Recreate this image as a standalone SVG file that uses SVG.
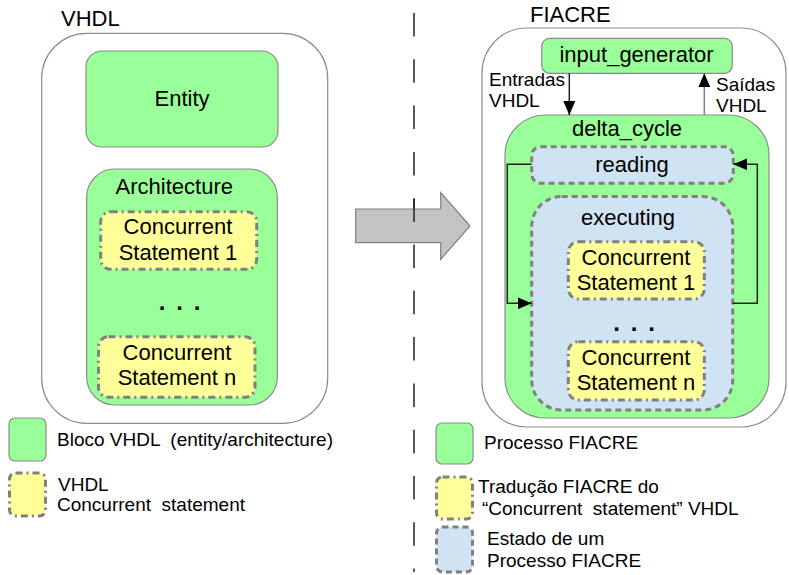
<svg xmlns="http://www.w3.org/2000/svg" width="789" height="575" viewBox="0 0 789 575">
  <style>
    text { font-family: "Liberation Sans", Arial, sans-serif; fill: #000; white-space: pre; }
    .t22 { font-size: 22px; }
    .t19 { font-size: 19px; }
    .t18 { font-size: 19px; }
    .mid { text-anchor: middle; }
    .frame { fill: #fff; stroke: #8c8c8c; stroke-width: 1.2; }
    .proc { fill: #99ff99; stroke: #8c8c8c; stroke-width: 1.2; }
    .stmt { fill: #ffff99; stroke: #808080; stroke-width: 3; stroke-dasharray: 7 4 2 4; }
    .state { fill: #cfe3f3; stroke: #808080; stroke-width: 3; stroke-dasharray: 6 4; }
    .wire { fill: none; stroke: #222; stroke-width: 1.5; }
    .dots { font-size: 24px; font-weight: bold; }
  </style>
  <defs>
    <marker id="head" markerWidth="14" markerHeight="12" refX="14" refY="6" orient="auto" markerUnits="userSpaceOnUse">
      <path d="M0,0 L14,6 L0,12 Z" fill="#000"/>
    </marker>
  </defs>

  <!-- separator between the two halves -->
  <line x1="414" y1="13" x2="414" y2="572" stroke="#222" stroke-width="1.5" stroke-dasharray="23.5 22.8"/>

  <!-- VHDL side -->
  <text class="t22" x="61" y="26">VHDL</text>
  <g id="vhdl-frame">
    <rect class="frame" x="41.7" y="33.3" width="286" height="390" rx="45"/>
  </g>
  <g id="entity">
    <rect class="proc" x="86" y="51" width="192" height="96" rx="16"/>
    <text class="t22 mid" x="182" y="106">Entity</text>
  </g>
  <g id="architecture">
    <rect class="proc" x="86.7" y="169" width="190.6" height="236" rx="28"/>
    <text class="t22 mid" x="174.3" y="194">Architecture</text>
  </g>
  <g id="vhdl-stmt-1">
    <rect class="stmt" x="100.7" y="211.7" width="156" height="57.6" rx="10"/>
    <text class="t22 mid" x="178" y="234">Concurrent</text>
    <text class="t22 mid" x="178" y="259.5">Statement 1</text>
  </g>
  <text class="dots mid" x="162 179.5 197" y="310">...</text>
  <g id="vhdl-stmt-n">
    <rect class="stmt" x="98.5" y="336.7" width="156.5" height="60.6" rx="10"/>
    <text class="t22 mid" x="177" y="360">Concurrent</text>
    <text class="t22 mid" x="177" y="384.5">Statement n</text>
  </g>

  <!-- translation arrow -->
  <g id="translate-arrow">
    <path d="M355.7,209 L440.7,209 L440.7,192.7 L470,226 L440.7,259.3 L440.7,242.7 L355.7,242.7 Z" fill="#c3c3c3" stroke="#808080" stroke-width="1.2"/>
  </g>
  <line x1="414" y1="199" x2="414" y2="222" stroke="#222" stroke-width="1.5"/>

  <!-- FIACRE side -->
  <text class="t22" x="530" y="22">FIACRE</text>
  <g id="fiacre-frame">
    <rect class="frame" x="482" y="28" width="304" height="399" rx="45"/>
  </g>
  <g id="input_generator">
    <rect class="proc" x="541.7" y="38.3" width="190.6" height="35" rx="8"/>
    <text class="t22 mid" x="636.5" y="62">input_generator</text>
  </g>
  <g id="delta_cycle">
    <rect class="proc" x="505" y="115" width="264" height="303" rx="40"/>
    <text class="t22 mid" x="627" y="136">delta_cycle</text>
  </g>
  <g id="reading">
    <rect class="state" x="531.7" y="146.7" width="201.6" height="36.6" rx="9"/>
    <text class="t22 mid" x="632" y="172">reading</text>
  </g>
  <g id="executing">
    <rect class="state" x="531.7" y="196.5" width="201" height="213.5" rx="30"/>
    <text class="t22 mid" x="628" y="225">executing</text>
  </g>
  <g id="fiacre-stmt-1">
    <rect class="stmt" x="568.3" y="241.7" width="136" height="57.3" rx="10"/>
    <text class="t22 mid" x="636" y="265">Concurrent</text>
    <text class="t22 mid" x="636" y="290">Statement 1</text>
  </g>
  <text class="dots mid" x="616.5 634 651.5" y="331">...</text>
  <g id="fiacre-stmt-n">
    <rect class="stmt" x="568.3" y="341.7" width="136" height="58.3" rx="10"/>
    <text class="t22 mid" x="636" y="365">Concurrent</text>
    <text class="t22 mid" x="636" y="390">Statement n</text>
  </g>

  <!-- connectors -->
  <g id="connectors">
    <line class="wire" x1="569.3" y1="73.3" x2="569.3" y2="115" marker-end="url(#head)"/>
    <line class="wire" x1="704.3" y1="115" x2="704.3" y2="73.3" style="stroke:#808080" marker-end="url(#head)"/>
    <polyline class="wire" points="531.7,164.3 507.3,164.3 507.3,303.3 531.7,303.3" marker-end="url(#head)"/>
    <polyline class="wire" points="732.7,303.3 757.3,303.3 757.3,164.3 733.3,164.3" marker-end="url(#head)"/>
  </g>
  <text class="t19" x="489" y="86">Entradas</text>
  <text class="t19" x="489" y="107">VHDL</text>
  <text class="t19" x="716" y="91">Saídas</text>
  <text class="t19" x="716" y="112">VHDL</text>

  <!-- legend, VHDL side -->
  <g id="legend-vhdl-block">
    <rect class="proc" x="9" y="418" width="37" height="43" rx="6"/>
    <text class="t18" x="57" y="446">Bloco VHDL  (entity/architecture)</text>
  </g>
  <g id="legend-vhdl-stmt">
    <rect class="stmt" x="9.5" y="473" width="36" height="43" rx="6"/>
    <text class="t18" x="58" y="491">VHDL</text>
    <text class="t18" x="57" y="511">Concurrent  statement</text>
  </g>

  <!-- legend, FIACRE side -->
  <g id="legend-fiacre-process">
    <rect class="proc" x="436" y="423" width="37" height="41" rx="6"/>
    <text class="t18" x="484" y="449">Processo FIACRE</text>
  </g>
  <g id="legend-fiacre-stmt">
    <rect class="stmt" x="436.5" y="477" width="36" height="42" rx="6"/>
    <text class="t18" x="478" y="493">Tradução FIACRE do</text>
    <text class="t18" x="482" y="515">“Concurrent  statement” VHDL</text>
  </g>
  <g id="legend-fiacre-state">
    <rect class="state" x="436.5" y="527" width="36" height="45" rx="6"/>
    <text class="t18" x="487" y="545">Estado de um</text>
    <text class="t18" x="487" y="567">Processo FIACRE</text>
  </g>
</svg>
